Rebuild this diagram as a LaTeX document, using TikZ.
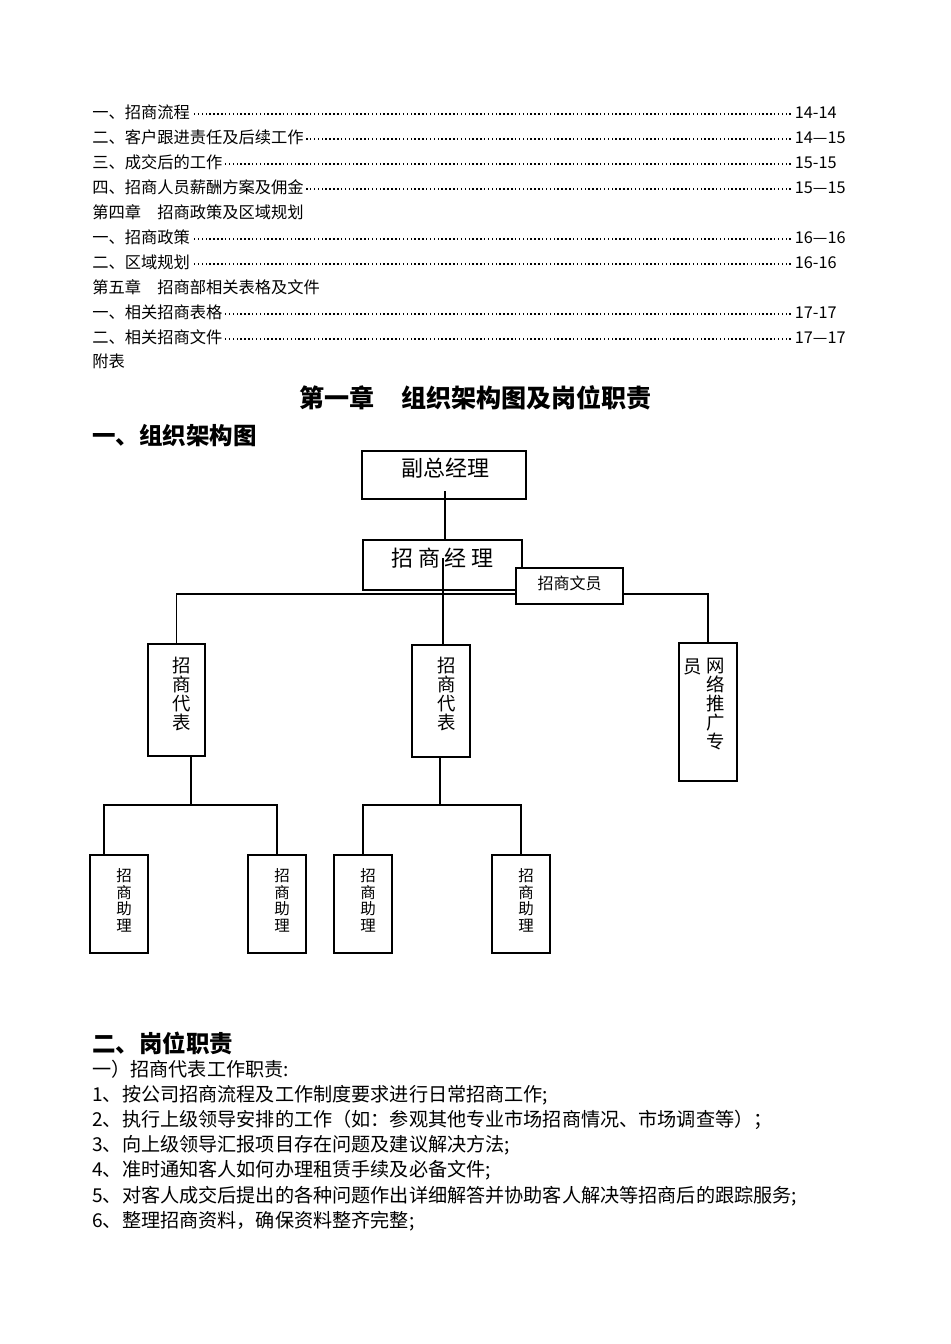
\documentclass[tikz,border=0pt]{standalone}
\usepackage{fontspec}
\setmainfont{Noto Sans CJK SC}
\usetikzlibrary{calc}
\newcommand\tocdots{\leaders\hbox to 2.9pt{\hss\rule[0.22em]{1.1pt}{1.1pt}\hss}\hfill}
\begin{document}
\begin{tikzpicture}[x=0.75pt,y=-0.75pt,
  toc/.style={anchor=west,inner sep=0pt,font=\fontsize{12.2pt}{14pt}\selectfont},
  body/.style={anchor=west,inner sep=0pt,font=\fontsize{14.35pt}{16pt}\selectfont},
  head/.style={anchor=west,inner sep=0pt,font=\bfseries\fontsize{17.6pt}{20pt}\selectfont},
  title/.style={inner sep=0pt,font=\bfseries\fontsize{18.8pt}{21pt}\selectfont},
  box/.style={draw,line width=0.8pt,fill=white,inner sep=0pt},
  conn/.style={line width=0.8pt},
  biglbl/.style={inner sep=0pt,font=\fontsize{16.5pt}{18pt}\selectfont},
  smalllbl/.style={inner sep=0pt,font=\fontsize{12pt}{14pt}\selectfont},
  replbl/.style={inner sep=0pt,align=center,font=\fontsize{13.8pt}{14.2pt}\selectfont},
  aslbl/.style={inner sep=0pt,align=center,font=\fontsize{11.6pt}{12.4pt}\selectfont}
]
\useasboundingbox[fill=white] (0,0) rectangle (950,1344);

% ---- table of contents ----
\node[toc] (t1) at (92,112) {\makebox[527pt][l]{一、招商流程\tocdots}14-14};
\node[toc] (t2) at (92,137) {\makebox[527pt][l]{二、客户跟进责任及后续工作\tocdots}14—15};
\node[toc] (t3) at (92,162) {\makebox[527pt][l]{三、成交后的工作\tocdots}15-15};
\node[toc] (t4) at (92,187) {\makebox[527pt][l]{四、招商人员薪酬方案及佣金\tocdots}15—15};
\node[toc] (t5) at (92,212) {第四章　招商政策及区域规划};
\node[toc] (t6) at (92,237) {\makebox[527pt][l]{一、招商政策\tocdots}16—16};
\node[toc] (t7) at (92,262) {\makebox[527pt][l]{二、区域规划\tocdots}16-16};
\node[toc] (t8) at (92,287) {第五章　招商部相关表格及文件};
\node[toc] (t9) at (92,312) {\makebox[527pt][l]{一、相关招商表格\tocdots}17-17};
\node[toc] (t10) at (92,337) {\makebox[527pt][l]{二、相关招商文件\tocdots}17—17};
\node[toc] (t11) at (92,361) {附表};

% ---- headings ----
\node[title] (ttl) at (475.5,398) {第一章\hspace{20pt}组织架构图及岗位职责};
\node[head] (h1) at (92,436) {一、组织架构图};

% ---- boxes ----
\node[box,minimum width=123pt,minimum height=36pt] (vp) at (444,475) {};
\node[box,minimum width=119.25pt,minimum height=37.5pt] (zm) at (442.5,565) {};
\node[box,minimum width=42.75pt,minimum height=84pt] (rep1) at (176.5,700) {};
\node[box,minimum width=43.5pt,minimum height=84pt] (rep2) at (441,701) {};
\node[box,minimum width=43.5pt,minimum height=103.5pt] (net) at (708,712) {};
\node[box,minimum width=43.5pt,minimum height=73.5pt] (a1) at (119,904) {};
\node[box,minimum width=43.5pt,minimum height=73.5pt] (a2) at (277,904) {};
\node[box,minimum width=43.5pt,minimum height=73.5pt] (a3) at (363,904) {};
\node[box,minimum width=43.5pt,minimum height=73.5pt] (a4) at (521,904) {};

% ---- connectors ----
\coordinate (vpin) at (445,491);
\coordinate (zmin) at (443,558);
\coordinate (bus) at (0,594);
\draw[conn] (vpin) -- (vpin |- zm.north);
\draw[conn] (zmin) -- (zmin |- rep2.north);
\draw[conn] (rep1.north) -- (rep1.north |- bus) -- (net.north |- bus) -- (net.north);

\coordinate (b1) at (191,805);
\coordinate (b1l) at (104,805);
\coordinate (b1r) at (277,805);
\draw[conn] (rep1.south -| b1) -- (b1);
\draw[conn] (b1l |- a1.north) -- (b1l) -- (b1r) -- (b1r |- a2.north);

\coordinate (b2) at (440,805);
\draw[conn] (rep2.south -| b2) -- (b2);
\draw[conn] (a3.north) -- (a3.north |- b2) -- (a4.north |- b2) -- (a4.north);

% clerk box drawn on top
\node[box,minimum width=80.25pt,minimum height=27pt] (wy) at (569.5,586) {};

% ---- box labels ----
\node[biglbl] (lvp) at (445,468) {副总经理};
\node[biglbl] (lzm) at (442.5,558) {招 商 经 理};
\node[smalllbl] (lwy) at (569.5,583) {招商文员};
\node[replbl] (lr1) at (182,694) {招\\商\\代\\表};
\node[replbl] (lr2) at (447,694) {招\\商\\代\\表};
\node[replbl] (lnet) at (716,704) {网\\络\\推\\广\\专};
\node[replbl] (lnet2) at (693,667) {员};
\node[aslbl] (la1) at (124,900.5) {招\\商\\助\\理};
\node[aslbl] (la2) at (282,900.5) {招\\商\\助\\理};
\node[aslbl] (la3) at (368,900.5) {招\\商\\助\\理};
\node[aslbl] (la4) at (526,900.5) {招\\商\\助\\理};

% ---- duties ----
\node[head] (h2) at (92,1043) {二、岗位职责};
\node[body] (d0) at (92,1069) {一）招商代表工作职责:};
\node[body] (d1) at (92,1095) {1、按公司招商流程及工作制度要求进行日常招商工作;};
\node[body] (d2) at (92,1120) {2、执行上级领导安排的工作（如：参观其他专业市场招商情况、市场调查等）；};
\node[body] (d3) at (92,1145) {3、向上级领导汇报项目存在问题及建议解决方法;};
\node[body] (d4) at (92,1170) {4、准时通知客人如何办理租赁手续及必备文件;};
\node[body] (d5) at (92,1196) {5、对客人成交后提出的各种问题作出详细解答并协助客人解决等招商后的跟踪服务;};
\node[body] (d6) at (92,1221) {6、整理招商资料，确保资料整齐完整;};
\end{tikzpicture}
\end{document}
